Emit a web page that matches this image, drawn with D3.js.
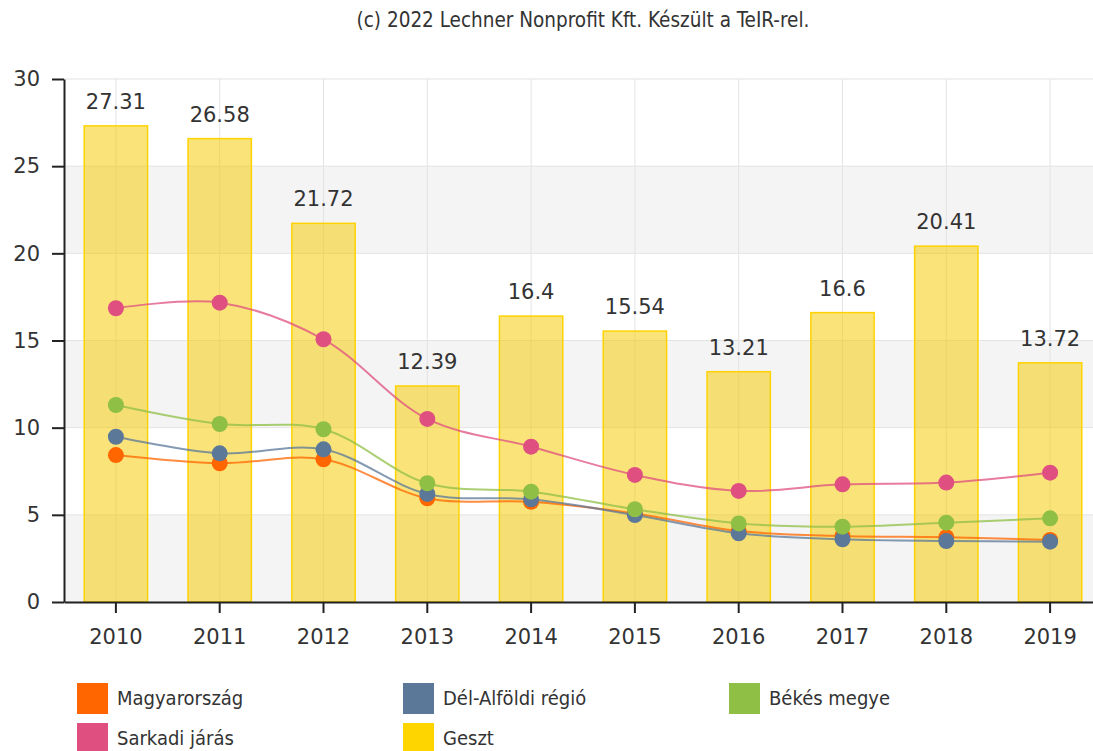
<!DOCTYPE html>
<html>
<head>
<meta charset="utf-8">
<script src="https://cdn.jsdelivr.net/npm/d3@7"></script>
<style>
    body { margin: 0; background: #fff; }
    text { font-family: "DejaVu Sans", Verdana, sans-serif; fill: #333; }
    .small { font-family: "DejaVu Sans Condensed", Tahoma, sans-serif; }
</style>
</head>
<body>
<svg id="chart" width="1093" height="751"></svg>
<script>
var years = ["2010","2011","2012","2013","2014","2015","2016","2017","2018","2019"];
var yTicks = [0, 5, 10, 15, 20, 25, 30];

var geszt = [27.31, 26.58, 21.72, 12.39, 16.4, 15.54, 13.21, 16.6, 20.41, 13.72];
var magyarorszag = [8.43, 7.96, 8.19, 5.95, 5.75, 5.08, 4.07, 3.79, 3.72, 3.56];
var delAlfoldi = [9.48, 8.53, 8.76, 6.2, 5.89, 4.99, 3.94, 3.6, 3.5, 3.46];
var bekes = [11.3, 10.21, 9.91, 6.81, 6.33, 5.32, 4.51, 4.32, 4.55, 4.8];
var sarkadi = [16.85, 17.17, 15.07, 10.5, 8.91, 7.29, 6.37, 6.75, 6.85, 7.42];

var lineSeries = [
    {name: "Magyarország", color: "#ff6600", values: magyarorszag},
    {name: "Dél-Alföldi régió", color: "#5b7899", values: delAlfoldi},
    {name: "Békés megye", color: "#8fbf44", values: bekes},
    {name: "Sarkadi járás", color: "#df4f80", values: sarkadi}
];
var legendItems = [
    {name: "Magyarország", color: "#ff6600"},
    {name: "Dél-Alföldi régió", color: "#5b7899"},
    {name: "Békés megye", color: "#8fbf44"},
    {name: "Sarkadi járás", color: "#df4f80"},
    {name: "Geszt", color: "#ffd500"}
];

var svg = d3.select("#chart");
var plotLeft = 64, plotRight = 1102, plotTop = 79, plotBottom = 602;

var x = d3.scaleBand().domain(years).range([plotLeft, plotRight]);
var y = d3.scaleLinear().domain([0, 30]).range([plotBottom, plotTop]);
var cx = function(d, i) { return x(years[i]) + x.bandwidth() / 2; };

// title
svg.append("text")
    .attr("class", "small")
    .attr("x", (plotLeft + plotRight) / 2)
    .attr("y", 27)
    .attr("text-anchor", "middle")
    .style("font-size", "20.5px")
    .text("(c) 2022 Lechner Nonprofit Kft. Készült a TeIR-rel.");

// alternating bands
for (var i = 0; i < yTicks.length - 1; i++) {
    if (i % 2 == 0) {
        svg.append("rect")
            .attr("x", plotLeft)
            .attr("y", y(yTicks[i + 1]))
            .attr("width", plotRight - plotLeft)
            .attr("height", y(yTicks[i]) - y(yTicks[i + 1]))
            .attr("fill", "#f4f4f4");
    }
}

// grid
svg.append("g").selectAll("line")
    .data(yTicks).enter().append("line")
    .attr("x1", plotLeft).attr("x2", plotRight)
    .attr("y1", function(d) { return y(d); })
    .attr("y2", function(d) { return y(d); })
    .attr("stroke", "#e3e3e3");

svg.append("g").selectAll("line")
    .data(years).enter().append("line")
    .attr("x1", function(d) { return x(d) + x.bandwidth() / 2; })
    .attr("x2", function(d) { return x(d) + x.bandwidth() / 2; })
    .attr("y1", plotTop).attr("y2", plotBottom)
    .attr("stroke", "#e3e3e3");

// bars
var barW = x.bandwidth() * 0.61;
svg.append("g").selectAll("rect")
    .data(geszt).enter().append("rect")
    .attr("x", function(d, i) { return cx(d, i) - barW / 2; })
    .attr("y", function(d) { return y(d); })
    .attr("width", barW)
    .attr("height", function(d) { return plotBottom - y(d); })
    .attr("fill", "#f5cc00")
    .attr("fill-opacity", 0.52)
    .attr("stroke", "#ffd200")
    .attr("stroke-width", 1.5);

svg.append("g").selectAll("text")
    .data(geszt).enter().append("text")
    .attr("x", cx)
    .attr("y", function(d) { return y(d) - 17; })
    .attr("text-anchor", "middle")
    .style("font-size", "21px")
    .text(function(d) { return d; });

// lines
var line = d3.line()
    .x(cx)
    .y(function(d) { return y(d); })
    .curve(d3.curveCatmullRom.alpha(0.5));

lineSeries.forEach(function(s) {
    svg.append("path")
        .datum(s.values)
        .attr("d", line)
        .attr("fill", "none")
        .attr("stroke", s.color)
        .attr("stroke-opacity", 0.75)
        .attr("stroke-width", 2);
});

lineSeries.forEach(function(s) {
    svg.append("g").selectAll("circle")
        .data(s.values).enter().append("circle")
        .attr("cx", cx)
        .attr("cy", function(d) { return y(d); })
        .attr("r", 8)
        .attr("fill", s.color);
});

// axes
var yAxis = svg.append("g")
    .attr("transform", "translate(" + plotLeft + ",0)")
    .call(d3.axisLeft(y).tickValues(yTicks).tickSize(12).tickSizeOuter(0).tickPadding(12));
var xAxis = svg.append("g")
    .attr("transform", "translate(0," + plotBottom + ")")
    .call(d3.axisBottom(x).tickSize(11).tickSizeOuter(0).tickPadding(16));

[yAxis, xAxis].forEach(function(a) {
    a.select(".domain").attr("stroke", "#222").attr("stroke-width", 2);
    a.selectAll(".tick line").attr("stroke", "#222").attr("stroke-width", 2);
    a.selectAll("text")
        .style("font-family", "'DejaVu Sans', Verdana, sans-serif")
        .style("font-size", "21px")
        .attr("fill", "#333");
});

// legend
var legend = svg.append("g").selectAll("g")
    .data(legendItems).enter().append("g")
    .attr("transform", function(d, i) {
        return "translate(" + (77 + (i % 3) * 326) + "," + (683 + Math.floor(i / 3) * 40) + ")";
    });
legend.append("rect")
    .attr("width", 31).attr("height", 31)
    .attr("fill", function(d) { return d.color; });
legend.append("text")
    .attr("class", "small")
    .attr("x", 40)
    .attr("y", 22)
    .style("font-size", "20px")
    .text(function(d) { return d.name; });
</script>
</body>
</html>
